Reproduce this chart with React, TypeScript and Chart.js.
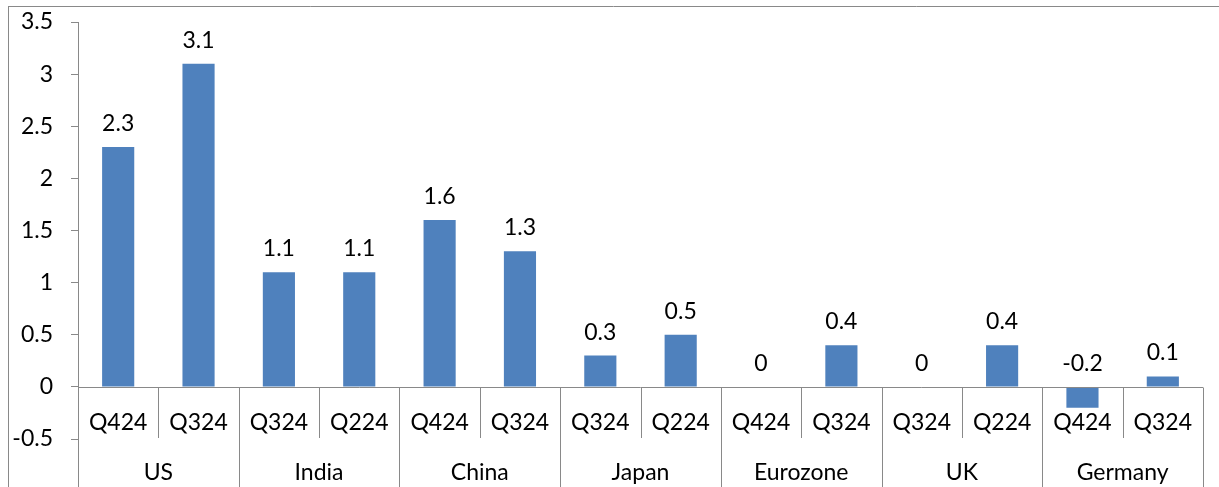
import React, { useEffect, useRef } from "react";
import { Chart, registerables } from "chart.js";

Chart.register(...registerables);

// Economies and the two quarters shown for each
const countries = ["US", "India", "China", "Japan", "Eurozone", "UK", "Germany"];
const quarters = [
  "Q424", "Q324",
  "Q324", "Q224",
  "Q424", "Q324",
  "Q324", "Q224",
  "Q424", "Q324",
  "Q324", "Q224",
  "Q424", "Q324",
];
// GDP growth, %
const growth = [2.3, 3.1, 1.1, 1.1, 1.6, 1.3, 0.3, 0.5, 0, 0.4, 0, 0.4, -0.2, 0.1];
const yTicks = [-0.5, 0, 0.5, 1, 1.5, 2, 2.5, 3, 3.5];

const AXIS = "#898989";
const BAR = "#4F81BD";
const FONT_FAMILY = "Lato, 'Noto Sans', sans-serif";
const FONT_SIZE = 23;
const W = 1219;
const H = 487;

const crisp = (v: number) => Math.round(v) + 0.5;

const axisPlugin = {
  id: "groupedAxis",
  afterDraw(chart: any) {
    const { ctx, chartArea, scales } = chart;
    const x = scales.x;
    const y = scales.y;
    const zero = crisp(y.getPixelForValue(0));
    const left = chartArea.left;
    const right = chartArea.right;
    const slot = (right - left) / quarters.length;

    ctx.save();
    ctx.strokeStyle = AXIS;
    ctx.lineWidth = 1;

    // outer frame (top and left edges)
    ctx.beginPath();
    ctx.moveTo(8, 6.5);
    ctx.lineTo(W, 6.5);
    ctx.moveTo(8.5, 6);
    ctx.lineTo(8.5, H);
    ctx.stroke();

    // value axis continues down through the label rows
    ctx.beginPath();
    ctx.moveTo(crisp(left), chartArea.bottom);
    ctx.lineTo(crisp(left), H);
    ctx.stroke();

    // category axis on the zero line
    ctx.beginPath();
    ctx.moveTo(left, zero);
    ctx.lineTo(right, zero);
    ctx.stroke();

    // separators: short between quarters, long between countries
    ctx.beginPath();
    for (let i = 1; i <= quarters.length; i++) {
      const sx = crisp(left + i * slot);
      ctx.moveTo(sx, zero);
      ctx.lineTo(sx, i % 2 === 0 ? H : 438);
    }
    ctx.stroke();

    ctx.fillStyle = "#000";
    ctx.font = `${FONT_SIZE}px ${FONT_FAMILY}`;
    ctx.textAlign = "center";
    ctx.textBaseline = "alphabetic";

    // quarter labels
    quarters.forEach((q, i) => {
      ctx.fillText(q, x.getPixelForValue(i), 430);
    });

    // country labels
    countries.forEach((c, g) => {
      const cx = left + (g * 2 + 1) * slot;
      ctx.fillText(c, cx, 480);
    });

    // value labels above each bar
    growth.forEach((v, i) => {
      const py = y.getPixelForValue(Math.max(v, 0));
      ctx.fillText(String(v), x.getPixelForValue(i), py - 16);
    });

    ctx.restore();
  },
};

export default function App() {
  const canvasRef = useRef<HTMLCanvasElement | null>(null);

  useEffect(() => {
    document.body.style.margin = "0";
    const canvas = canvasRef.current;
    if (!canvas) return;
    const chart = new Chart(canvas, {
      type: "bar",
      data: {
        labels: quarters,
        datasets: [
          {
            data: growth,
            backgroundColor: BAR,
            borderWidth: 0,
            categoryPercentage: 1,
            barPercentage: 0.4,
          },
        ],
      },
      options: {
        animation: false,
        responsive: false,
        devicePixelRatio: 1,
        layout: { padding: { left: 0, top: 22, right: 16, bottom: 48 } },
        plugins: {
          legend: { display: false },
          tooltip: { enabled: false },
        },
        scales: {
          x: { display: false },
          y: {
            min: -0.5,
            max: 3.5,
            afterBuildTicks: (scale: any) => {
              scale.ticks = yTicks.map((value) => ({ value }));
            },
            afterFit: (scale: any) => {
              scale.width = 78;
              scale.paddingTop = 0;
              scale.paddingBottom = 0;
            },
            grid: {
              drawOnChartArea: false,
              drawTicks: true,
              tickLength: 7,
              color: AXIS,
              lineWidth: 1,
            },
            border: { display: true, color: AXIS, width: 1 },
            ticks: {
              padding: 18,
              color: "#000",
              font: { family: FONT_FAMILY, size: FONT_SIZE },
              callback: (value: any) => String(value),
            },
          },
        },
      },
      plugins: [axisPlugin],
    });
    return () => chart.destroy();
  }, []);

  return (
    <div style={{ width: W, height: H, background: "#fff" }}>
      <canvas ref={canvasRef} width={W} height={H} style={{ display: "block" }} />
    </div>
  );
}
